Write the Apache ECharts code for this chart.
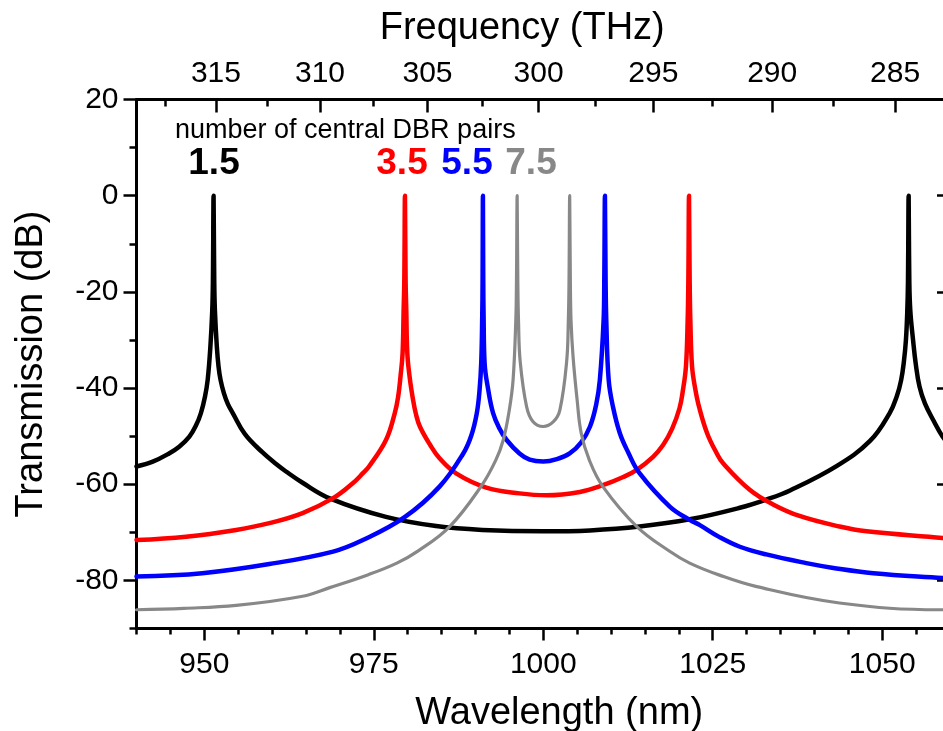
<!DOCTYPE html>
<html><head><meta charset="utf-8">
<script src="https://cdn.jsdelivr.net/npm/echarts@6/dist/echarts.min.js"></script>
<style>html,body{margin:0;padding:0;background:#fff;overflow:hidden;width:943px;height:731px}#c{width:950px;height:731px}</style>
</head><body><div id="c"></div>
<script>
const FONT = '"Liberation Sans", Arial, Helvetica, sans-serif';
const C_NM_THZ = 299792.458;

// series: number of central DBR pairs = 1.5
const wl_1_5 = [940, 942.4, 944.8, 946.3, 947.8, 948.8, 949.5, 950.1, 950.5, 950.9, 951.17, 951.27, 951.37, 951.47, 951.57, 951.85, 952.1, 952.4, 952.9, 953.5, 954.2, 956.0, 958.6, 960.6, 962.0, 964.5, 968.6, 976.8, 984.2, 991.0, 1000.0, 1006.9, 1014.2, 1021.6, 1029.0, 1032.9, 1036.4, 1043.2, 1048.2, 1051.1, 1052.2, 1052.8, 1053.2, 1053.5, 1053.7, 1053.8, 1053.9, 1054.0, 1054.15, 1054.55, 1054.95, 1055.5, 1056.3, 1057.5, 1058.9, 1060];
const db_1_5 = [-56.3, -55.3, -53.6, -52.2, -50.1, -47.7, -45.2, -41.8, -38.3, -31.4, -24, -18, 0, -18, -24, -31.4, -35.5, -38.3, -41.1, -43.4, -45.2, -49.6, -53.4, -55.8, -57.3, -59.7, -63.0, -66.8, -68.7, -69.5, -69.8, -69.6, -68.8, -67.3, -64.9, -63.2, -61.3, -56.3, -51.0, -45.2, -41.5, -38.3, -34.5, -30, -24, -18, 0, -18, -24, -30, -35, -39.7, -43.2, -46.6, -50.1, -52.0];

// series: 3.5
const wl_3_5 = [940, 947.3, 954.7, 959.6, 964.5, 969.0, 971.9, 973.4, 974.3, 976.8, 978.1, 978.6, 978.95, 979.25, 979.4, 979.5, 979.6, 979.7, 979.8, 979.95, 980.3, 980.8, 981.2, 981.8, 983.3, 984.7, 987.2, 991.6, 996.5, 1000.5, 1005.4, 1008.8, 1011.8, 1013.8, 1016.2, 1017.7, 1019.0, 1020.1, 1020.6, 1021.05, 1021.3, 1021.4, 1021.5, 1021.6, 1021.7, 1021.95, 1022.4, 1023.0, 1024.2, 1025.6, 1026.5, 1030.5, 1033.9, 1037.8, 1043.7, 1047.7, 1058.9, 1060];
const db_3_5 = [-71.6, -70.9, -69.5, -68.1, -66.0, -62.9, -59.8, -57.7, -56.3, -50.8, -45.2, -41.8, -37.5, -32.8, -24, -18, 0, -18, -24, -32.8, -37.8, -42.5, -45.3, -48.0, -51.8, -54.6, -57.8, -60.7, -61.9, -62.3, -61.6, -60.2, -58.5, -57.0, -54.3, -51.8, -48.5, -44.2, -40.5, -35.5, -26, -18, 0, -18, -26, -35.5, -40.0, -44.0, -49.5, -53.6, -55.6, -61.2, -64.2, -66.6, -68.8, -69.8, -71.2, -71.4];

// series: 5.5
const wl_5_5 = [940, 949.7, 959.6, 969.0, 973.4, 979.5, 984.7, 988.2, 989.4, 990.2, 990.6, 990.85, 991.0, 991.05, 991.1, 991.15, 991.2, 991.35, 991.9, 992.6, 993.5, 994.6, 996.5, 998.0, 1000.0, 1002.0, 1003.9, 1005.6, 1006.9, 1007.8, 1008.35, 1008.9, 1009.0, 1009.1, 1009.2, 1009.3, 1009.65, 1010.3, 1011.3, 1012.5, 1014.2, 1018.7, 1021.6, 1023.1, 1026.0, 1029.0, 1032.9, 1038.8, 1042.8, 1048.7, 1058.9, 1060];
const db_5_5 = [-79.2, -78.5, -76.6, -74.0, -71.6, -66.9, -60.5, -53.6, -49.8, -45.2, -40.5, -34.8, -25, -18, 0, -18, -25, -34.8, -40.5, -45.2, -48.3, -50.8, -53.6, -54.9, -55.3, -54.8, -53.6, -51.3, -48.0, -43.5, -38.3, -26, -18, 0, -18, -26, -38.3, -44.0, -49.4, -53.3, -57.7, -64.7, -67.4, -68.5, -71.0, -73.0, -74.6, -76.4, -77.4, -78.5, -79.5, -79.6];

// series: 7.5
const wl_7_5 = [940, 947.0, 954.7, 964.5, 968.5, 974.2, 978.4, 981.5, 986.2, 990.9, 993.0, 994.1, 995.0, 995.55, 995.95, 996.05, 996.15, 996.25, 996.35, 996.6, 997.55, 998.5, 1000.0, 1001.5, 1002.45, 1003.45, 1003.7, 1003.8, 1003.9, 1004.0, 1004.1, 1004.4, 1005.0, 1005.6, 1006.8, 1008.8, 1013.8, 1018.7, 1021.6, 1026.0, 1031.5, 1043.7, 1058.5, 1060];
const db_7_5 = [-86.1, -85.8, -85.2, -83.3, -81.5, -78.8, -76.4, -73.9, -68.8, -60.3, -55.0, -50.8, -44.5, -38.3, -26, -18, 0, -18, -26, -34.5, -43.9, -47.0, -48.0, -47.0, -44.6, -34.5, -26, -18, 0, -18, -26, -33.5, -42.5, -49.4, -55.0, -60.5, -68.8, -74.0, -76.4, -78.9, -81.3, -84.7, -86.1, -86.1];

const seriesNames = ['1.5', '3.5', '5.5', '7.5'];
const seriesColors = ['#000000', '#ff0000', '#0000ff', '#888888'];
const seriesWidths = [4.5, 4.5, 4.5, 3.2];
const seriesWl = [wl_1_5, wl_3_5, wl_5_5, wl_7_5];
const seriesDb = [db_1_5, db_3_5, db_5_5, db_7_5];

// axis ticks
const wlTicks = [950, 975, 1000, 1025, 1050];
const wlMinor = [940, 945, 955, 960, 965, 970, 980, 985, 990, 995, 1005, 1010, 1015, 1020, 1030, 1035, 1040, 1045, 1055, 1060];
const dbTicks = [-80, -60, -40, -20, 0, 20];
const dbMinor = [-90, -70, -50, -30, -10, 10];
const thzTicks = [315, 310, 305, 300, 295, 290, 285];
const thzMinor = [317.5, 312.5, 307.5, 302.5, 297.5, 292.5, 287.5];

const toWl = f => C_NM_THZ / f;

const WL_MIN = 940, WL_MAX = 1060, DB_MIN = -90, DB_MAX = 20;
const AX = {color: '#000', width: 3};
const TK = {color: '#000', width: 2.5};
const lab = {color: '#000', fontSize: 30, fontFamily: FONT};
const nameStyle = {color: '#000', fontSize: 38, fontFamily: FONT};

function xAx(o) {
  return Object.assign({type: 'value', min: WL_MIN, max: WL_MAX, splitLine: {show: false}, axisPointer: {show: false}, nameMoveOverlap: false}, o);
}
function yAx(o) {
  return Object.assign({type: 'value', min: DB_MIN, max: DB_MAX, splitLine: {show: false}, axisPointer: {show: false}, nameMoveOverlap: false}, o);
}

const chart = echarts.init(document.getElementById('c'), null, {renderer: 'canvas'});
chart.setOption({
  animation: false,
  backgroundColor: '#ffffff',
  grid: {left: 136.5, top: 99.5, right: 0, bottom: 102.5, containLabel: false, outerBoundsMode: 'none'},
  xAxis: [
    xAx({position: 'bottom', axisLine: {onZero: false, lineStyle: AX},
      axisTick: {customValues: wlTicks, length: 12, lineStyle: TK},
      axisLabel: Object.assign({customValues: wlTicks, margin: 21, formatter: v => String(v)}, lab),
      name: 'Wavelength (nm)', nameLocation: 'middle', nameGap: 66,
      nameTextStyle: Object.assign({padding: [0, 0, 0, 32]}, nameStyle)}),
    xAx({position: 'bottom', axisLine: {show: false, onZero: false},
      axisTick: {customValues: wlMinor, length: 6, lineStyle: TK}, axisLabel: {show: false}}),
    xAx({position: 'top', axisLine: {onZero: false, lineStyle: AX},
      axisTick: {inside: true, customValues: thzTicks.map(toWl), length: 13, lineStyle: TK},
      axisLabel: Object.assign({customValues: thzTicks.map(toWl), margin: 11,
        formatter: v => String(Math.round(C_NM_THZ / v))}, lab),
      name: 'Frequency (THz)', nameLocation: 'middle', nameGap: 52,
      nameTextStyle: Object.assign({padding: [0, 42, 0, 0]}, nameStyle)}),
    xAx({position: 'top', axisLine: {show: false, onZero: false},
      axisTick: {inside: true, customValues: thzMinor.map(toWl), length: 7, lineStyle: TK}, axisLabel: {show: false}})
  ],
  yAxis: [
    yAx({position: 'left', axisLine: {onZero: false, lineStyle: AX},
      axisTick: {customValues: dbTicks, length: 13, lineStyle: TK},
      axisLabel: Object.assign({customValues: dbTicks, margin: 18}, lab),
      name: 'Transmission (dB)', nameLocation: 'middle', nameGap: 86, nameTextStyle: nameStyle}),
    yAx({position: 'left', axisLine: {show: false, onZero: false},
      axisTick: {customValues: dbMinor, length: 7, lineStyle: TK}, axisLabel: {show: false}}),
    yAx({position: 'right', axisLine: {onZero: false, lineStyle: AX},
      axisTick: {inside: true, customValues: dbTicks, length: 13, lineStyle: TK}, axisLabel: {show: false}}),
    yAx({position: 'right', axisLine: {show: false, onZero: false},
      axisTick: {inside: true, customValues: dbMinor, length: 7, lineStyle: TK}, axisLabel: {show: false}})
  ],
  series: seriesNames.map((n, i) => ({
    name: n, type: 'line', xAxisIndex: 0, yAxisIndex: 0,
    showSymbol: false, symbol: 'none', smooth: 0.4, sampling: null, clip: true,
    z: 2 + i,
    lineStyle: {color: seriesColors[i], width: seriesWidths[i], cap: 'round', join: 'round'},
    data: seriesWl[i].map((w, k) => [w, seriesDb[i][k]])
  })),
  graphic: [
    {type: 'text', x: 175, y: 131, z: 100, style: {text: 'number of central DBR pairs', fill: '#000', fontSize: 27, fontFamily: FONT, align: 'left', verticalAlign: 'middle'}},
    {type: 'text', x: 214, y: 164, z: 100, style: {text: seriesNames[0], fill: seriesColors[0], fontSize: 37, fontWeight: 'bold', fontFamily: FONT, align: 'center', verticalAlign: 'middle'}},
    {type: 'text', x: 402, y: 164, z: 100, style: {text: seriesNames[1], fill: seriesColors[1], fontSize: 37, fontWeight: 'bold', fontFamily: FONT, align: 'center', verticalAlign: 'middle'}},
    {type: 'text', x: 467, y: 164, z: 100, style: {text: seriesNames[2], fill: seriesColors[2], fontSize: 37, fontWeight: 'bold', fontFamily: FONT, align: 'center', verticalAlign: 'middle'}},
    {type: 'text', x: 531, y: 164, z: 100, style: {text: seriesNames[3], fill: seriesColors[3], fontSize: 37, fontWeight: 'bold', fontFamily: FONT, align: 'center', verticalAlign: 'middle'}}
  ]
});
</script></body></html>
